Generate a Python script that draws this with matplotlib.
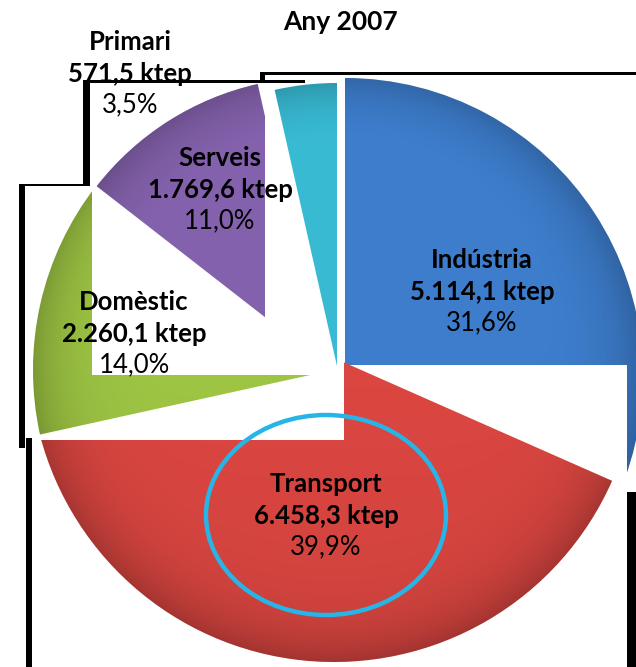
import numpy as np
import matplotlib
matplotlib.use('Agg')
import matplotlib.pyplot as plt
from matplotlib.patches import Rectangle, Ellipse

# data
sectors = ['Indústria', 'Transport', 'Domèstic', 'Serveis', 'Primari']
ktep = [5114.1, 6458.3, 2260.1, 1769.6, 571.5]
ktep_labels = ['5.114,1 ktep', '6.458,3 ktep', '2.260,1 ktep', '1.769,6 ktep', '571,5 ktep']
pct_labels = ['31,6%', '39,9%', '14,0%', '11,0%', '3,5%']
colors = ['#3D7DCC', '#DB4641', '#9DC443', '#8461AC', '#38BAD3']

W, H = 636, 667
plt.rcParams['font.family'] = ['Lato', 'DejaVu Sans']

fig = plt.figure(figsize=(W / 100, H / 100), dpi=100)
ax = fig.add_axes([0, 0, 1, 1])

# pixel-like coordinates, y pointing down -> clockwise from the top
wedges, _ = ax.pie(ktep, colors=colors, startangle=-90, counterclock=True,
                   center=(340, 368), radius=290, frame=True,
                   wedgeprops=dict(linewidth=0))

# the source picture is a collage of pasted pieces, each slice sits a bit off
centers = [(345, 376), (334, 358), (333, 370), (320, 360), (337, 366)]
radii = [298, 304, 300, 283, 283]
zorders = [1, 3, 5, 7, 9]
for w, c, r, z in zip(wedges, centers, radii, zorders):
    w.set_center(c)
    w.set_radius(r)
    w.set_zorder(z)

# soft darker rim on every slice
yy, xx = np.mgrid[0:H, 0:W] + 0.5
for w, z in zip(wedges, zorders):
    cx, cy = w.center
    d = np.hypot(xx - cx, yy - cy) / w.r
    img = np.zeros((H, W, 4))
    img[..., 3] = np.clip(0.22 * d ** 9 + 0.04 * (yy - cy) / w.r, 0, 0.3)
    im = ax.imshow(img, extent=(0, W, H, 0), zorder=z + 0.1, interpolation='bilinear')
    im.set_clip_path(w)

# white pasted panels hiding parts of the slices
ax.add_patch(Rectangle((343, 365), 284, 302, fc='white', ec='none', zorder=2))
ax.add_patch(Rectangle((24, 185), 320, 255, fc='white', ec='none', zorder=4))
ax.add_patch(Rectangle((92, 185), 252, 190, fc='white', ec='none', zorder=6))
ax.add_patch(Rectangle((265, 75), 75, 300, fc='white', ec='none', zorder=8))

# black shadow edges of the panels
for x, y, w_, h_ in [(260, 72, 376, 3), (260, 72, 5, 9), (83, 80, 222, 3),
                     (83, 80, 7, 105), (19, 184, 71, 2), (19, 184, 6, 264),
                     (26, 438, 6, 229), (627, 492, 9, 175)]:
    ax.add_patch(Rectangle((x, y), w_, h_, fc='black', ec='none', zorder=15))

# highlight around Transport
ax.add_patch(Ellipse((326, 515), 240, 200, fill=False, ec='#27B5E8', lw=3.2, zorder=19))

# labels
label_pos = [(482, 260), (326, 484), (134, 302), (220, 158), (130, 42)]
fs = 18.5
for name, val, pct, (x, y) in zip(sectors, ktep_labels, pct_labels, label_pos):
    ax.text(x, y, name, ha='center', va='center', fontsize=fs, fontweight='bold', zorder=20)
    ax.text(x, y + 32, val, ha='center', va='center', fontsize=fs, fontweight='bold', zorder=20)
    ax.text(x, y + 63, pct, ha='center', va='center', fontsize=fs, zorder=20)

ax.text(340, 22, 'Any 2007', ha='center', va='center', fontsize=19, fontweight='bold', zorder=20)

ax.set_xlim(0, W)
ax.set_ylim(H, 0)
ax.set_aspect('equal')
ax.axis('off')

plt.savefig('out.png', dpi=100)
